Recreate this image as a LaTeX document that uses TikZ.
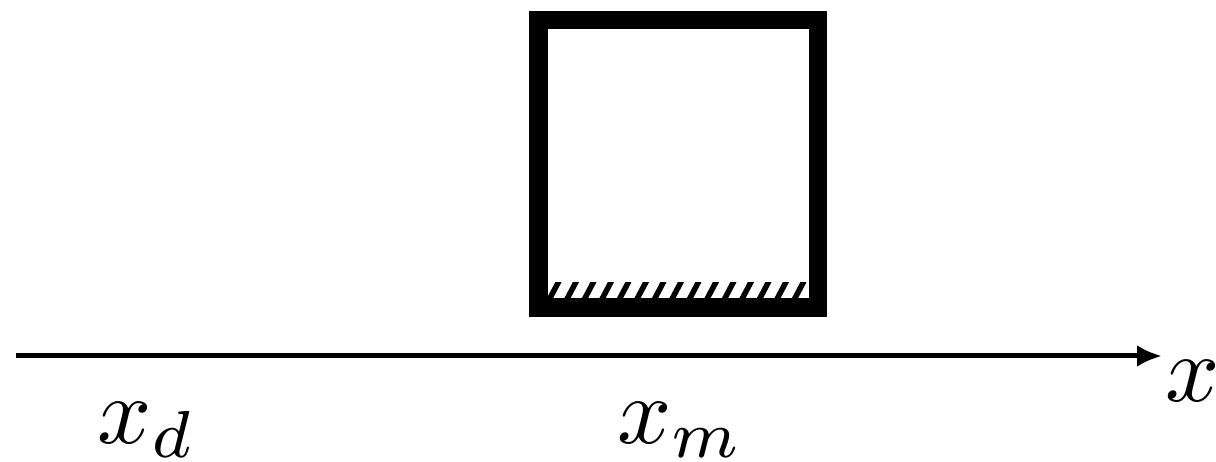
\documentclass[tikz,border=0pt]{standalone}
\usepackage{graphicx}
\usetikzlibrary{arrows.meta}
\tikzset{
  boxstyle/.style={draw=black, line width=18.7pt, minimum width=279.7pt, minimum height=287.3pt, inner sep=0pt, outer sep=0pt},
  axisstyle/.style={line width=5pt, -{Latex[length=25pt,width=22pt]}},
  hatchstyle/.style={line width=5.5pt},
  lbl/.style={inner sep=0pt, outer sep=0pt, anchor=base west, font=\normalsize}
}
\newcommand{\bigmath}[1]{\scalebox{9.5}{$#1$}}
\begin{document}
\begin{tikzpicture}[x=1pt,y=-1pt]
\useasboundingbox (0,0) rectangle (1216,462);
\node[boxstyle] (box) at (678.15,163.65) {};
\begin{scope}
  \clip (547.7,282.5) rectangle (809,298);
  \foreach \k in {0,...,15} {
    \draw[hatchstyle] ({549+17.5*\k},300) -- ({559+17.5*\k},281);
  }
\end{scope}
\coordinate (axstart) at (16,356);
\coordinate (axend) at (1162,356);
\draw[axisstyle] (axstart) -- (axend);
\node[lbl] (xlab) at (1165,402) {\bigmath{x}};
\node[lbl] (xd) at (97,443) {\bigmath{x_d}};
\node[lbl] (xm) at (617,443) {\bigmath{x_m}};
\end{tikzpicture}
\end{document}
